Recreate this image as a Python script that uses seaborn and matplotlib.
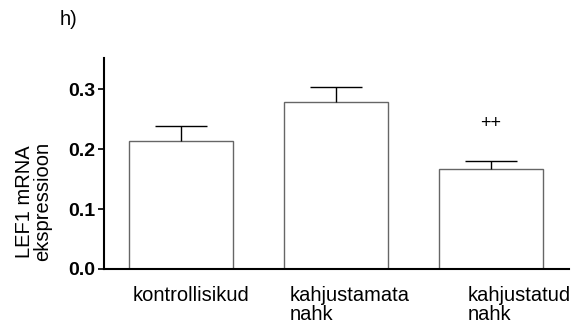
import matplotlib
matplotlib.use("Agg")
import matplotlib.pyplot as plt
import matplotlib.transforms as mtransforms
import seaborn as sns
import pandas as pd
import numpy as np

# Group labels, mean LEF1 expression and upper SEM
groups = ["kontrollisikud", "kahjustamata\nnahk", "kahjustatud\nnahk"]
means = [0.214, 0.278, 0.166]
sems = [0.024, 0.025, 0.015]
ytick_values = [0.0, 0.1, 0.2, 0.3]
ytick_labels = ["0.0", "0.1", "0.2", "0.3"]

sns.set_theme(style="ticks")
plt.rcParams["font.family"] = ["Liberation Sans", "DejaVu Sans"]
plt.rcParams["text.color"] = "black"
plt.rcParams["axes.labelcolor"] = "black"
plt.rcParams["xtick.color"] = "black"
plt.rcParams["ytick.color"] = "black"

fig = plt.figure(figsize=(5.87, 3.32), dpi=100)
ax = fig.add_axes([0.177, 0.190, 0.792, 0.635])

df = pd.DataFrame({"group": groups, "value": means})
sns.barplot(data=df, x="group", y="value", color="white", edgecolor="#666666",
            linewidth=1.0, width=0.67, errorbar=None, saturation=1, ax=ax)
for p in ax.patches:
    p.set_facecolor("white")

# upper-only SEM whiskers with caps
xs = np.arange(len(groups))
tops = np.array(means) + np.array(sems)
ax.vlines(xs, means, tops, color="black", linewidth=1.0, zorder=3)
ax.hlines(tops, xs - 0.168, xs + 0.168, color="black", linewidth=1.0, zorder=3)

# significance mark above the third group
ax.text(2, means[2] + sems[2] + 0.062, "++", ha="center", va="center", fontsize=13)

ax.set_xlim(-0.497, 2.503)
ax.set_ylim(0, 0.352)
ax.set_yticks(ytick_values)
ax.set_yticklabels(ytick_labels, fontweight="bold", fontsize=14)
ax.set_xlabel("")
ax.set_ylabel("LEF1 mRNA\nekspressioon", fontsize=14.5, linespacing=0.95)
ax.yaxis.set_label_coords(-0.112, 0.32)

sns.despine(ax=ax)
for s in ["left", "bottom"]:
    ax.spines[s].set_linewidth(1.5)
    ax.spines[s].set_color("black")
ax.tick_params(axis="y", length=4, width=1.2, color="black", pad=2)
ax.tick_params(axis="x", length=0, pad=12, labelsize=14.5)

offsets_pt = [-34.5, -33.0, -16.5]
for lab, dx in zip(ax.get_xticklabels(), offsets_pt):
    lab.set_horizontalalignment("left")
    lab.set_verticalalignment("top")
    lab.set_linespacing(1.0)
    lab.set_transform(lab.get_transform() +
                      mtransforms.ScaledTranslation(dx / 72, 0, fig.dpi_scale_trans))

fig.text(60 / 587, 1 - 10 / 332, "h)", ha="left", va="top", fontsize=14.5)

fig.savefig("out.png", dpi=100)
